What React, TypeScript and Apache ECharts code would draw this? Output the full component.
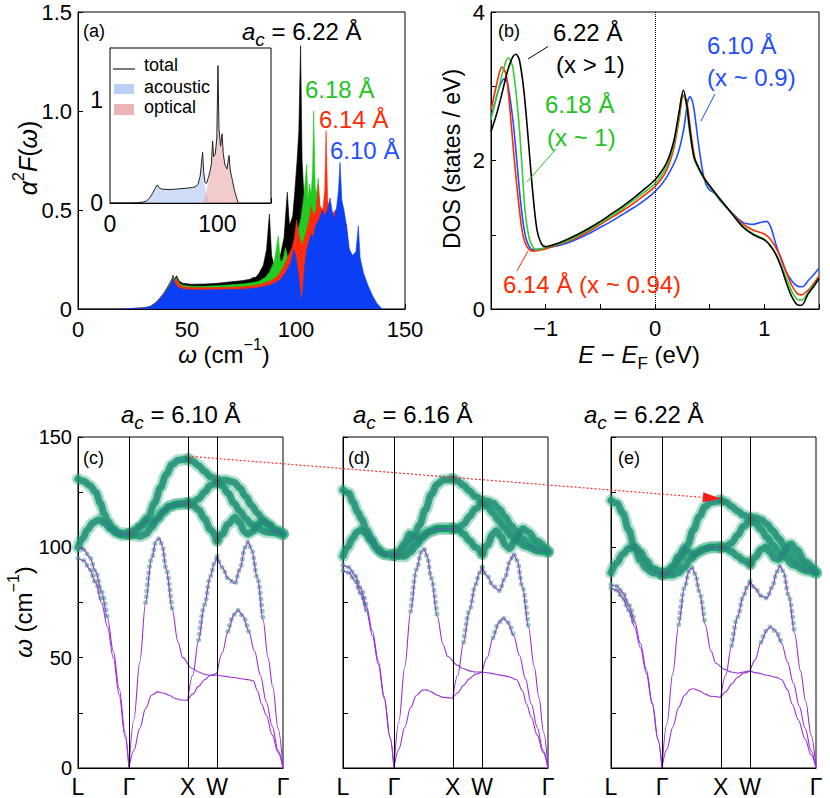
import React, { useEffect, useRef } from 'react';
import * as echarts from 'echarts';

const FONT = "'Liberation Sans', Arial, Helvetica, sans-serif";

// ---------------- Panel (a): alpha^2 F(omega) ----------------
const a2f622 = [[0,0],[18,0],[24,0.002],[30,0.006],[33,0.012],[36,0.035],[39,0.075],[41,0.11],[43,0.15],[43.6,0.17],[44.3,0.15],[45.2,0.168],[46.5,0.14],[48,0.13],[52,0.125],[58,0.126],[64,0.13],[70,0.137],[75,0.143],[79,0.15],[80,0.158],[81.5,0.16],[83,0.18],[85,0.22],[86.5,0.3],[87.8,0.48],[88.8,0.27],[90,0.22],[91.5,0.24],[93,0.28],[94.5,0.36],[96,0.59],[97,0.42],[98.5,0.47],[99.5,0.6],[100.5,0.75],[101.3,0.9],[102.1,1.33],[102.8,0.75],[103.5,0.6],[105,0.55],[106.5,0.45],[108,0.35],[110,0.3],[113,0.25],[120,0.2],[128,0.1],[136,0]];
const a2f618 = [[0,0],[18,0],[24,0.002],[30,0.005],[33,0.011],[36,0.033],[39,0.072],[41,0.105],[43,0.145],[43.6,0.162],[44.3,0.145],[45.2,0.158],[46.5,0.13],[48,0.12],[52,0.115],[58,0.115],[64,0.118],[70,0.122],[76,0.127],[80,0.133],[83,0.14],[86,0.16],[88,0.19],[90,0.24],[91.9,0.37],[92.8,0.24],[94,0.25],[95.2,0.31],[96.2,0.26],[98,0.3],[99.5,0.34],[101,0.4],[102.3,0.46],[103.5,0.56],[104.9,0.73],[105.5,0.55],[106.2,0.63],[107,0.58],[107.6,0.7],[108.1,1.0],[108.8,0.62],[109.5,0.58],[110.2,0.66],[111,0.5],[113,0.44],[116,0.4],[120,0.35],[125,0.22],[130,0.1],[135,0.04],[138,0]];
const a2f614 = [[0,0],[18,0],[24,0.002],[30,0.005],[33,0.011],[36,0.032],[39,0.07],[41,0.1],[43,0.14],[43.6,0.158],[44.3,0.14],[45.2,0.15],[46.5,0.122],[48,0.112],[52,0.108],[58,0.107],[64,0.108],[70,0.11],[76,0.113],[80,0.117],[84,0.125],[88,0.14],[91,0.16],[93,0.19],[95,0.23],[96.5,0.27],[98,0.3],[99.3,0.36],[100.3,0.45],[101.3,0.38],[102.6,0.32],[103.6,0.35],[105,0.4],[106,0.45],[107,0.52],[108,0.47],[109.3,0.5],[110.2,0.63],[111,0.52],[112.3,0.5],[113.2,0.6],[113.8,0.9],[114.5,0.55],[116,0.47],[118,0.5],[120,0.47],[122,0.4],[123.2,0.43],[124,0.32],[126,0.22],[130,0.11],[135,0.04],[139,0]];
const a2f610 = [[0,0],[18,0],[24,0.002],[30,0.005],[33,0.011],[36,0.032],[39,0.07],[41,0.1],[42.5,0.125],[43.6,0.155],[44.5,0.125],[46,0.108],[48,0.1],[52,0.097],[58,0.096],[64,0.097],[70,0.098],[76,0.1],[80,0.103],[84,0.11],[88,0.12],[91,0.135],[93,0.15],[95,0.18],[96.5,0.21],[97.8,0.24],[99,0.3],[100,0.26],[101.2,0.17],[102,0.08],[102.6,0.04],[103.2,0.1],[104,0.22],[105,0.3],[106,0.34],[107,0.38],[108,0.36],[109,0.42],[110.5,0.45],[112,0.5],[113,0.47],[114.5,0.5],[115.6,0.56],[116.5,0.5],[117.5,0.45],[118.7,0.52],[119.5,0.6],[120.2,0.74],[121,0.55],[122,0.5],[123,0.43],[124.5,0.3],[126,0.27],[127.5,0.29],[128.6,0.42],[129.4,0.26],[131,0.18],[133,0.12],[135,0.07],[137,0.03],[139.5,0]];

// inset (6.22 A): total / acoustic / optical
const insetTotal = [[0,0],[18,0],[25,0.003],[30,0.008],[34,0.02],[37,0.05],[40,0.1],[42,0.14],[44,0.175],[45.5,0.15],[48,0.135],[55,0.13],[62,0.135],[70,0.142],[77,0.15],[80,0.16],[82,0.18],[84,0.26],[86.3,0.49],[87.3,0.3],[88.5,0.2],[90,0.19],[91.5,0.24],[93,0.3],[94.5,0.38],[95.6,0.6],[96.5,0.45],[98,0.47],[99.5,0.62],[100.6,1.33],[101.5,0.72],[103,0.55],[104.4,0.67],[105.5,0.48],[107,0.37],[109,0.33],[110.9,0.46],[112,0.32],[114,0.22],[116,0.12],[118,0.05],[119.5,0]];
const insetAcoustic = [[0,0],[18,0],[25,0.003],[30,0.008],[34,0.02],[37,0.05],[40,0.1],[42,0.14],[44,0.175],[45.5,0.15],[48,0.135],[55,0.13],[62,0.135],[70,0.142],[77,0.15],[80,0.16],[82,0.18],[84,0.25],[86.3,0.47],[87.3,0.28],[88.5,0.16],[90,0.08],[91.5,0.03],[93,0]];
const insetOptical = [[85,0],[87,0.02],[88.5,0.06],[90,0.12],[91.5,0.2],[93,0.28],[94.5,0.37],[95.6,0.59],[96.5,0.45],[98,0.47],[99.5,0.62],[100.6,1.32],[101.5,0.72],[103,0.55],[104.4,0.67],[105.5,0.48],[107,0.37],[109,0.33],[110.9,0.46],[112,0.32],[114,0.22],[116,0.12],[118,0.05],[119.5,0]];

// ---------------- Panel (b): DOS ----------------
const dos622 = [[-1.5,2.39],[-1.45,2.62],[-1.4,2.9],[-1.35,3.2],[-1.3,3.4],[-1.27,3.43],[-1.24,3.35],[-1.2,2.95],[-1.16,2.3],[-1.12,1.6],[-1.08,1.07],[-1.04,0.88],[-1.0,0.84],[-0.9,0.88],[-0.8,0.94],[-0.7,1.01],[-0.6,1.09],[-0.5,1.18],[-0.4,1.28],[-0.3,1.38],[-0.2,1.49],[-0.1,1.61],[0,1.74],[0.1,1.95],[0.17,2.25],[0.22,2.65],[0.26,2.95],[0.29,2.75],[0.32,2.4],[0.356,2.05],[0.4,1.9],[0.45,1.76],[0.5,1.66],[0.6,1.47],[0.7,1.29],[0.8,1.11],[0.9,1.0],[1.0,0.93],[1.05,0.86],[1.1,0.75],[1.15,0.58],[1.2,0.36],[1.25,0.17],[1.3,0.06],[1.34,0.05],[1.4,0.2],[1.45,0.3],[1.5,0.41]];
const dos618 = [[-1.5,2.55],[-1.45,2.85],[-1.4,3.15],[-1.36,3.35],[-1.34,3.38],[-1.3,3.25],[-1.25,2.6],[-1.22,2.0],[-1.19,1.35],[-1.15,0.95],[-1.11,0.82],[-1.08,0.8],[-1.0,0.83],[-0.9,0.87],[-0.8,0.92],[-0.7,0.99],[-0.6,1.07],[-0.5,1.16],[-0.4,1.25],[-0.3,1.35],[-0.2,1.46],[-0.1,1.57],[0,1.69],[0.1,1.9],[0.17,2.2],[0.22,2.6],[0.25,2.89],[0.28,2.8],[0.32,2.35],[0.36,2.02],[0.4,1.88],[0.45,1.75],[0.5,1.65],[0.6,1.46],[0.7,1.29],[0.8,1.12],[0.9,1.01],[1.0,0.94],[1.05,0.87],[1.1,0.76],[1.15,0.6],[1.2,0.42],[1.25,0.24],[1.3,0.13],[1.34,0.12],[1.4,0.22],[1.45,0.32],[1.5,0.41]];
const dos614 = [[-1.5,2.68],[-1.46,2.95],[-1.42,3.2],[-1.4,3.26],[-1.36,3.15],[-1.31,2.4],[-1.28,1.9],[-1.25,1.47],[-1.22,1.1],[-1.19,0.9],[-1.15,0.8],[-1.11,0.78],[-1.0,0.81],[-0.9,0.86],[-0.8,0.91],[-0.7,0.97],[-0.6,1.05],[-0.5,1.14],[-0.4,1.23],[-0.3,1.32],[-0.2,1.42],[-0.1,1.53],[0,1.65],[0.1,1.85],[0.17,2.15],[0.22,2.55],[0.26,2.88],[0.29,2.8],[0.33,2.35],[0.37,2.0],[0.42,1.84],[0.5,1.66],[0.6,1.47],[0.7,1.3],[0.8,1.15],[0.9,1.06],[1.0,1.01],[1.05,0.95],[1.1,0.84],[1.15,0.7],[1.2,0.5],[1.25,0.32],[1.3,0.21],[1.34,0.19],[1.4,0.25],[1.45,0.34],[1.5,0.44]];
const dos610 = [[-1.5,2.59],[-1.46,2.8],[-1.42,3.0],[-1.38,3.1],[-1.35,3.05],[-1.3,2.55],[-1.27,2.1],[-1.24,1.6],[-1.21,1.2],[-1.18,0.95],[-1.15,0.84],[-1.12,0.8],[-1.0,0.82],[-0.9,0.85],[-0.8,0.89],[-0.7,0.95],[-0.6,1.02],[-0.5,1.1],[-0.4,1.18],[-0.3,1.27],[-0.2,1.36],[-0.1,1.46],[0,1.58],[0.1,1.76],[0.2,2.05],[0.26,2.4],[0.3,2.8],[0.32,2.86],[0.35,2.75],[0.4,2.2],[0.45,1.75],[0.49,1.62],[0.55,1.55],[0.6,1.45],[0.7,1.3],[0.8,1.17],[0.9,1.14],[0.95,1.16],[1.02,1.18],[1.06,1.1],[1.1,0.9],[1.15,0.68],[1.2,0.5],[1.25,0.38],[1.3,0.31],[1.35,0.3],[1.4,0.38],[1.45,0.46],[1.5,0.55]];

// ---------------- Panels (c)-(e): phonon dispersions ----------------
const G = 0.866, X = 1.866, W = 2.366, G2 = 3.484;
const kPoints = [0, G, X, W, G2];
const kLabels = ['L', 'Γ', 'X', 'W', 'Γ'];

// a_c = 6.10
const c_A1 = [[0,100],[0.1,99],[0.2,95.5],[0.3,89],[0.4,80],[0.5,68],[0.6,53],[0.7,36],[0.8,16],[G,0]];
const c_A2 = [[0,95],[0.1,94],[0.2,90],[0.3,84],[0.4,75],[0.5,64],[0.6,50],[0.7,33],[0.8,14],[G,0]];
const c_A3 = [[G,0],[0.95,22],[1.05,48],[1.15,75],[1.25,95],[1.33,103],[1.384,104],[1.43,101],[1.5,90],[1.6,72],[1.7,57],[1.78,50],[X,47],[1.95,45],[2.05,43.5],[2.15,42.5],[2.25,42],[W,42],[2.5,41.5],[2.65,41],[2.8,40.3],[2.9,40],[2.98,39.5],[3.05,35],[3.12,29],[3.2,24],[3.3,15],[3.4,7],[G2,0]];
const c_A4 = [[G,0],[0.95,8],[1.05,18],[1.15,27],[1.25,33],[1.35,34.5],[1.45,34],[1.55,33],[1.65,31.5],[1.75,30.8],[X,30.7],[1.95,33.5],[2.05,37],[2.15,40],[2.25,42],[W,43],[2.45,52],[2.55,62],[2.65,69.5],[2.72,71.5],[2.8,69],[2.9,62],[3.0,53],[3.1,42],[3.2,30],[3.3,19],[3.4,8],[G2,0]];
const c_A5 = [[X,30.7],[1.95,42],[2.05,58],[2.15,74],[2.25,87],[2.32,93],[W,96],[2.45,91],[2.55,86],[2.665,83.5],[2.75,90],[2.84,100],[2.89,102.5],[2.95,99],[3.05,86],[3.145,67],[3.23,50],[3.31,36.7],[3.4,18],[G2,0]];
const c_O1 = [[0,131],[0.1,130],[0.2,128],[0.3,125],[0.38,120],[0.45,115],[0.5,112],[0.6,108.5],[0.7,106.5],[G,106],[1.0,108],[1.1,110],[1.2,114],[1.3,120],[1.4,127],[1.5,133],[1.6,137.5],[1.7,139.5],[X,140],[1.95,139],[2.05,137],[2.15,134.5],[2.25,132],[W,130],[2.5,130.5],[2.65,129.5],[2.75,127],[2.85,123],[2.95,119],[3.05,115.5],[3.15,112],[3.25,109.5],[3.35,107.5],[G2,106]];
const c_O2 = [[0,100],[0.08,104],[0.16,108],[0.25,111],[0.35,112.5],[0.45,111],[0.55,108.5],[0.65,106.5],[0.75,105.5],[G,106],[0.95,107],[1.05,109.5],[1.15,112],[1.25,111.5],[1.35,113],[1.45,116],[1.55,118.5],[1.65,119.5],[1.75,119.8],[X,120],[1.95,120.5],[2.05,122],[2.15,125],[2.25,128],[W,130],[2.45,128],[2.55,124.5],[2.65,120],[2.75,116.5],[2.85,113],[2.95,110.5],[3.05,108.5],[3.2,107],[G2,106]];
const c_O3 = [[G,106],[0.95,105.5],[1.05,105],[1.15,106],[1.25,109],[1.35,113],[1.45,116.5],[1.55,118.5],[1.7,119.5],[X,120],[1.95,119],[2.05,117],[2.15,113],[2.25,108],[W,103],[2.45,106],[2.55,110.5],[2.665,113.5],[2.75,111],[2.83,107],[2.89,106],[2.95,107],[3.05,110],[3.145,112],[3.25,110.5],[3.35,108],[G2,106]];
const c_dots = [[0,0,0.5],[1,0,0.45],[2,1.15,1.6],[4,2.05,3.145],[3,2.55,2.9]];

// a_c = 6.16
const d_A1 = [[0,92],[0.1,91],[0.2,87.5],[0.3,81.5],[0.4,73],[0.5,62],[0.6,48.5],[0.7,32.5],[0.8,14],[G,0]];
const d_A2 = [[0,89.5],[0.1,88.5],[0.2,85],[0.3,79],[0.4,71],[0.5,60],[0.6,47],[0.7,31.5],[0.8,13.5],[G,0]];
const d_A3 = [[G,0],[0.95,21],[1.05,46],[1.15,71],[1.25,90],[1.33,98],[1.377,99.3],[1.43,96],[1.5,86],[1.6,69],[1.7,56],[1.78,50.5],[X,48.4],[1.95,46.5],[2.05,45],[2.15,44],[2.25,43.5],[W,43.5],[2.5,43],[2.65,42.2],[2.8,41.5],[2.95,40],[3.05,35],[3.12,29],[3.2,23],[3.3,15],[3.4,7],[G2,0]];
const d_A4 = [[G,0],[0.95,8.5],[1.05,18.5],[1.15,27.5],[1.25,33],[1.35,35.3],[1.42,35.4],[1.5,34.5],[1.6,33],[1.7,32],[X,31.6],[1.95,34],[2.05,37.5],[2.15,40.5],[2.25,42.5],[W,43.5],[2.45,50],[2.55,59],[2.65,66],[2.72,68],[2.8,66],[2.9,60],[3.0,51],[3.1,40.5],[3.2,29],[3.3,18.5],[3.4,8],[G2,0]];
const d_A5 = [[X,31.6],[1.95,42],[2.05,57],[2.15,71.5],[2.25,83],[2.32,88.5],[W,91],[2.45,87],[2.55,82.5],[2.66,80.3],[2.75,86],[2.84,94],[2.9,97],[2.96,94],[3.05,82],[3.15,64],[3.25,46],[3.33,32],[3.41,16],[G2,0]];
const d_O1 = [[0,126],[0.1,124.5],[0.17,120.6],[0.25,116],[0.31,113],[0.4,108],[0.48,104],[0.55,100.5],[0.62,98],[0.72,96.8],[G,96.5],[1.0,98],[1.1,100],[1.2,104],[1.3,110],[1.4,117],[1.5,124],[1.6,128.5],[1.7,130.5],[X,131],[1.95,130],[2.05,128],[2.15,125.5],[2.25,123],[W,120.5],[2.45,121],[2.55,120],[2.65,117.5],[2.75,114],[2.85,110],[2.95,107],[3.05,104],[3.2,101],[3.35,99],[G2,98]];
const d_O2 = [[0,96],[0.08,100],[0.16,104],[0.24,107],[0.3,107.7],[0.38,106.5],[0.48,103],[0.58,99.5],[0.7,97],[G,96.5],[0.95,98],[1.05,102],[1.13,106],[1.2,105],[1.3,104],[1.4,106],[1.5,107.5],[1.65,108.5],[X,108.5],[1.95,109],[2.05,110.5],[2.15,114],[2.25,117.5],[W,120.5],[2.45,118.5],[2.55,115.5],[2.65,112],[2.75,108.5],[2.85,105.5],[2.95,103],[3.1,100.5],[3.3,98.5],[G2,98]];
const d_O3 = [[G,96.5],[0.95,96],[1.05,96],[1.15,98],[1.25,101],[1.35,104.5],[1.45,107],[1.6,108.5],[X,108.5],[1.95,108],[2.05,106],[2.15,103],[2.25,100],[W,97],[2.45,101],[2.55,106],[2.6,107.5],[2.68,105],[2.76,101],[2.83,99.5],[2.92,103],[3.0,107],[3.06,108.5],[3.15,107],[3.28,103],[G2,98]];
const d_dots = [[0,0,0.45],[1,0,0.4],[2,1.15,1.6],[4,2.05,3.15],[3,2.55,2.9]];

// a_c = 6.22
const e_A1 = [[0,83.2],[0.1,82.5],[0.2,79.5],[0.3,74],[0.4,66.5],[0.5,56.5],[0.6,44.5],[0.7,30],[0.8,13],[G,0]];
const e_A2 = [[0,81.6],[0.1,80.5],[0.2,77],[0.3,71.5],[0.4,64],[0.5,54.5],[0.6,43],[0.7,29],[0.8,12.5],[G,0]];
const e_A3 = [[G,0],[0.95,20],[1.05,43],[1.15,65],[1.25,82],[1.33,89.5],[1.377,90.8],[1.43,88],[1.5,80],[1.6,65],[1.7,53],[1.78,47.5],[X,45.8],[1.95,44.5],[2.05,43.5],[2.15,43],[2.25,43.5],[W,44],[2.5,43],[2.65,42],[2.8,41.2],[2.9,40],[3.0,35.5],[3.08,29],[3.18,22],[3.3,13],[3.4,6],[G2,0]];
const e_A4 = [[G,0],[0.95,8.5],[1.05,18.5],[1.15,27.5],[1.25,33],[1.35,35.7],[1.405,35.9],[1.5,35],[1.6,33.5],[1.7,32.5],[X,32],[1.95,34.5],[2.05,38],[2.15,41],[2.25,43],[W,44],[2.45,49],[2.55,57],[2.65,62.5],[2.71,64],[2.8,62],[2.9,56.5],[3.0,48],[3.1,38.5],[3.2,28],[3.3,18],[3.4,8],[G2,0]];
const e_A5 = [[X,32],[1.95,42],[2.05,55.5],[2.15,68.5],[2.25,78],[2.32,82.5],[W,84.7],[2.45,81.5],[2.55,78],[2.65,77],[2.74,82],[2.82,89],[2.87,91.6],[2.93,89],[3.02,78],[3.12,61],[3.22,44],[3.31,30],[3.4,15],[G2,0]];
const e_O1 = [[0,121.3],[0.1,120],[0.2,115.5],[0.3,108],[0.4,100],[0.5,94],[0.6,90.5],[0.7,88.5],[G,87.7],[1.0,89],[1.1,91],[1.2,95],[1.3,101],[1.4,108],[1.5,114],[1.6,118.5],[1.7,120.5],[X,121.3],[1.95,120.5],[2.05,118.5],[2.15,116.5],[2.25,114.5],[W,113],[2.45,113.5],[2.55,112.5],[2.65,110.5],[2.75,107.5],[2.85,104],[2.95,100.5],[3.05,97],[3.2,93],[3.35,90],[G2,88.5]];
const e_O2 = [[0,88.5],[0.1,93],[0.2,97],[0.3,99.5],[0.4,100],[0.5,98],[0.6,94],[0.7,90.5],[G,88],[0.95,89],[1.05,91.5],[1.15,96],[1.25,99.5],[1.32,98],[1.4,96.5],[1.5,98],[1.6,99.5],[1.7,100],[X,100],[1.95,100.5],[2.05,102],[2.15,105.5],[2.25,109.5],[W,113],[2.45,111],[2.55,108],[2.65,104.5],[2.75,101],[2.85,98],[2.95,95.5],[3.1,92],[3.3,89.5],[G2,88.5]];
const e_O3 = [[G,88],[0.95,87.5],[1.05,87.5],[1.15,88.5],[1.25,91],[1.35,94.5],[1.45,97.5],[1.55,99],[1.7,100],[X,100],[1.95,99.5],[2.05,98],[2.15,96],[2.25,94],[W,92.3],[2.45,95.5],[2.55,99],[2.62,100],[2.7,98],[2.78,95],[2.84,94.5],[2.92,97],[3.0,100.5],[3.06,101.5],[3.15,99],[3.3,93.5],[G2,88.5]];
const e_dots = [[0,0,0.4],[1,0,0.4],[2,1.15,1.6],[4,2.05,3.12],[3,2.55,2.9]];

const PURPLE = '#9b30d9';

function splitSym(pts: number[][]) {
  const segs: number[][][] = [];
  let cur: number[][] = [];
  pts.forEach((p) => {
    cur.push(p);
    const isSym = kPoints.some((k) => Math.abs(k - p[0]) < 1e-6);
    if (isSym && cur.length > 1) {
      segs.push(cur);
      cur = [p];
    }
  });
  if (cur.length > 1) segs.push(cur);
  return segs;
}

function dispersionSeries(gi: number, acoustic: number[][][], optical: number[][][], dots: number[][]) {
  const out: any[] = [];
  const base = {
    type: 'line', xAxisIndex: gi, yAxisIndex: gi, showSymbol: false, symbol: 'none',
    silent: true, smooth: 0.35, smoothMonotone: 'x',
  };
  optical.forEach((curve) => splitSym(curve).forEach((seg) => {
    out.push({ ...base, data: seg, z: 2, lineStyle: { width: 12, color: 'rgba(45,165,125,0.38)', cap: 'round' } });
    out.push({ ...base, data: seg, z: 2, lineStyle: { width: 7, color: 'rgba(20,150,108,0.85)', cap: 'round' } });
  }));
  dots.forEach(([ci, k0, k1]) => {
    const pts = acoustic[ci].filter((p) => p[0] >= k0 - 1e-6 && p[0] <= k1 + 1e-6);
    splitSym(pts).forEach((seg) => out.push({ ...base, data: seg, z: 2, lineStyle: { width: 5, color: 'rgba(70,170,135,0.6)', type: [0, 6], cap: 'round' } }));
  });
  acoustic.forEach((curve) => splitSym(curve).forEach((seg) => out.push({ ...base, data: seg, z: 3, lineStyle: { width: 1.1, color: PURPLE } })));
  optical.forEach((curve) => splitSym(curve).forEach((seg) => out.push({ ...base, data: seg, z: 3, lineStyle: { width: 1, color: PURPLE, opacity: 0.4 } })));
  out.push({
    ...base, data: [], z: 1,
    markLine: {
      silent: true, symbol: 'none', label: { show: false }, animation: false,
      lineStyle: { color: '#000', type: 'solid', width: 1 },
      data: [{ xAxis: G }, { xAxis: X }, { xAxis: W }],
    },
  });
  return out;
}

function rich(size: number) {
  const lh = Math.round(size * 1.45);
  return {
    n: { fontSize: size, fontFamily: FONT, lineHeight: lh },
    i: { fontSize: size, fontFamily: FONT, fontStyle: 'italic', lineHeight: lh },
    sub: { fontSize: Math.round(size * 0.8), fontFamily: FONT, fontStyle: 'italic', lineHeight: Math.round(size * 0.8), verticalAlign: 'bottom' },
    subn: { fontSize: Math.round(size * 0.72), fontFamily: FONT, lineHeight: Math.round(size * 0.72), verticalAlign: 'bottom' },
    sup: { fontSize: Math.round(size * 0.65), fontFamily: FONT, lineHeight: Math.round(size * 0.85), verticalAlign: 'top' },
  };
}

function T(x: number, y: number, text: string, size: number, color = '#000', align = 'left', rot = 0) {
  return {
    type: 'text', x, y, rotation: rot, z: 100, silent: true,
    style: {
      text, fill: color, fontSize: size, fontFamily: FONT,
      align, verticalAlign: 'middle', textAlign: align, textVerticalAlign: 'middle',
      rich: rich(size),
    },
  };
}
function L(x1: number, y1: number, x2: number, y2: number, color = '#000', w = 1) {
  return { type: 'line', z: 100, silent: true, shape: { x1, y1, x2, y2 }, style: { stroke: color, lineWidth: w } };
}

const GREEN_T = '#22c422';
const RED_T = '#ff2a00';
const BLUE_T = '#1f4fff';

export default function App() {
  const ref = useRef<HTMLDivElement>(null);
  useEffect(() => {
    if (!ref.current) return;
    const chart = echarts.init(ref.current, undefined, { renderer: 'svg' });

    const gridDefs = [
      { left: 78, top: 12, width: 327, height: 297 },
      { left: 110, top: 48, width: 161, height: 155 },
      { left: 491, top: 12, width: 328, height: 297 },
      { left: 78, top: 437, width: 205, height: 331 },
      { left: 343, top: 437, width: 205, height: 331 },
      { left: 611, top: 437, width: 205, height: 331 },
    ];
    const grid = gridDefs.map((g, i) => ({
      ...g, show: true, borderColor: '#000', borderWidth: 1,
      backgroundColor: i === 1 ? '#fff' : 'transparent', z: i === 1 ? 1 : 0,
    }));

    const ax = (gi: number, extra: any) => ({
      gridIndex: gi, type: 'value',
      axisLine: { show: true, onZero: false, lineStyle: { color: '#000', width: 1 } },
      splitLine: { show: false },
      axisTick: { show: true, inside: true, length: 5, lineStyle: { color: '#000' } },
      ...extra,
      axisLabel: { color: '#000', fontFamily: FONT, ...(extra.axisLabel || {}) },
    });

    const minus = (v: number) => (v < 0 ? '\u2212' + Math.abs(v) : String(v));

    const xAxis: any[] = [
      ax(0, { min: 0, max: 150, interval: 50, axisLabel: { fontSize: 22, margin: 9 } }),
      ax(1, { min: 0, max: 150, interval: 50, axisLabel: { fontSize: 23, margin: 9, formatter: (v: number) => (v === 0 || v === 100 ? String(v) : '') } }),
      ax(2, { min: -1.5, max: 1.5, interval: 0.5, axisLabel: { fontSize: 22, margin: 8, formatter: (v: number) => (Number.isInteger(v) ? minus(v) : '') } }),
    ];
    const yAxis: any[] = [
      ax(0, { min: 0, max: 1.5, interval: 0.5, axisLabel: { fontSize: 22, margin: 6, formatter: (v: number) => (v === 0 ? '0' : v.toFixed(1)) } }),
      ax(1, { min: 0, max: 1.5, interval: 0.5, axisLabel: { fontSize: 23, margin: 7, formatter: (v: number) => (Number.isInteger(v) ? String(v) : '') } }),
      ax(2, { min: 0, max: 4, interval: 1, axisLabel: { fontSize: 22, margin: 6, formatter: (v: number) => (v % 2 === 0 ? String(v) : '') } }),
    ];
    [3, 4, 5].forEach((gi) => {
      xAxis.push(ax(gi, {
        min: 0, max: G2,
        axisTick: { show: false },
        axisLabel: {
          fontSize: 23, margin: 7, customValues: kPoints, showMinLabel: true, showMaxLabel: true,
          formatter: (v: number) => {
            const i = kPoints.findIndex((k) => Math.abs(k - v) < 1e-3);
            return i >= 0 ? kLabels[i] : '';
          },
        },
      }));
      yAxis.push(ax(gi, {
        min: 0, max: 150, interval: 25,
        axisLabel: { show: gi === 3, fontSize: 20, margin: 6, formatter: (v: number) => (v % 50 === 0 ? String(v) : '') },
      }));
    });

    const series: any[] = [];
    // panel (a)
    ([[a2f622, '#000000'], [a2f618, '#20cc20'], [a2f614, '#ff2b0a'], [a2f610, '#0b3ff5']] as any[]).forEach(([d, c], i) => {
      series.push({
        type: 'line', xAxisIndex: 0, yAxisIndex: 0, data: d, showSymbol: false, symbol: 'none', silent: true,
        lineStyle: { width: 0.6, color: c }, areaStyle: { color: c, opacity: 1 }, z: 2 + i * 0.01,
      });
    });
    // inset
    series.push({ type: 'line', xAxisIndex: 1, yAxisIndex: 1, data: insetAcoustic, showSymbol: false, symbol: 'none', silent: true, lineStyle: { width: 0 }, areaStyle: { color: 'rgba(160,188,240,0.72)' }, z: 3 });
    series.push({ type: 'line', xAxisIndex: 1, yAxisIndex: 1, data: insetOptical, showSymbol: false, symbol: 'none', silent: true, lineStyle: { width: 0 }, areaStyle: { color: 'rgba(228,150,150,0.7)' }, z: 3 });
    series.push({ type: 'line', xAxisIndex: 1, yAxisIndex: 1, data: insetTotal, showSymbol: false, symbol: 'none', silent: true, lineStyle: { width: 1, color: '#222' }, z: 4 });
    // panel (b)
    ([[dos610, '#1f4fff'], [dos614, '#ff2a00'], [dos618, '#33cc33'], [dos622, '#000000']] as any[]).forEach(([d, c], i) => {
      series.push({
        type: 'line', xAxisIndex: 2, yAxisIndex: 2, data: d, showSymbol: false, symbol: 'none', silent: true,
        smooth: 0.3, lineStyle: { width: 1.6, color: c }, z: 3,
        markLine: i === 0 ? {
          silent: true, symbol: 'none', label: { show: false },
          lineStyle: { color: '#000', type: 'dotted', width: 1 }, data: [{ xAxis: 0 }],
        } : undefined,
      });
    });
    // panels (c)-(e)
    series.push(...dispersionSeries(3, [c_A1, c_A2, c_A3, c_A4, c_A5], [c_O1, c_O2, c_O3], c_dots));
    series.push(...dispersionSeries(4, [d_A1, d_A2, d_A3, d_A4, d_A5], [d_O1, d_O2, d_O3], d_dots));
    series.push(...dispersionSeries(5, [e_A1, e_A2, e_A3, e_A4, e_A5], [e_O1, e_O2, e_O3], e_dots));

    chart.setOption({
      animation: false,
      backgroundColor: '#fff',
      textStyle: { fontFamily: FONT },
      grid, xAxis, yAxis, series,
    });

    // red dotted arrow from (c) X-top to (e) X-top
    const p1 = chart.convertToPixel({ xAxisIndex: 3, yAxisIndex: 3 } as any, [X, 141.3]) as number[];
    const p2 = chart.convertToPixel({ xAxisIndex: 5, yAxisIndex: 5 } as any, [X, 122]) as number[];
    const dx = p2[0] - p1[0], dy = p2[1] - p1[1];
    const len = Math.hypot(dx, dy);
    const ux = dx / len, uy = dy / len;
    const hl = 18, hw = 5;
    const bx = p2[0] - ux * hl, by = p2[1] - uy * hl;
    const arrow = [
      { type: 'line', z: 100, silent: true, shape: { x1: p1[0], y1: p1[1], x2: bx, y2: by }, style: { stroke: '#ff2a2a', lineWidth: 1.2, lineDash: [2, 2] } },
      { type: 'polygon', z: 100, silent: true, shape: { points: [[p2[0], p2[1]], [bx - uy * hw, by + ux * hw], [bx + uy * hw, by - ux * hw]] }, style: { fill: '#ff1a1a' } },
    ];

    const texts = [
      T(83, 31, '(a)', 18),
      T(242, 31, '{i|a}{sub|c}{n| = 6.22 Å}', 24),
      T(305, 89, '6.18 Å', 24, GREEN_T),
      T(319, 119, '6.14 Å', 24, RED_T),
      T(330, 150, '6.10 Å', 24, BLUE_T),
      L(113, 69, 135, 69, '#222', 1.2),
      { type: 'rect', z: 100, silent: true, shape: { x: 114, y: 84, width: 20, height: 10 }, style: { fill: 'rgba(160,188,240,0.72)' } },
      { type: 'rect', z: 100, silent: true, shape: { x: 114, y: 104, width: 20, height: 11 }, style: { fill: 'rgba(228,150,150,0.7)' } },
      T(144, 65, 'total', 18),
      T(144, 87, 'acoustic', 18),
      T(144, 107, 'optical', 18),
      T(224, 354, '{i|ω}{n| (cm}{sup|\u22121}{n|)}', 24, '#000', 'center'),
      T(28, 158, '{i|α}{sup|2}{i|F}{n|(}{i|ω}{n|)}', 25, '#000', 'center', Math.PI / 2),
      // panel (b)
      T(498, 31, '(b)', 18),
      T(553, 32, '6.22 Å', 24),
      T(556, 64, '(x > 1)', 24),
      T(545, 104, '6.18 Å', 24, GREEN_T),
      T(547, 137, '(x ~ 1)', 24, GREEN_T),
      T(707, 45, '6.10 Å', 24, BLUE_T),
      T(707, 77, '(x ~ 0.9)', 24, BLUE_T),
      T(503, 284, '6.14 Å (x ~ 0.94)', 24, RED_T),
      L(528, 59, 548, 46.5, '#000'),
      L(527, 182, 556, 149, GREEN_T),
      L(701, 121, 715, 94, BLUE_T),
      L(517, 271, 528, 251, RED_T),
      T(639, 354, '{i|E}{n| \u2212 }{i|E}{subn|F}{n| (eV)}', 24, '#000', 'center'),
      T(452, 159, 'DOS (states / eV)', 23, '#000', 'center', Math.PI / 2),
      // panels (c)-(e)
      T(121, 414, '{i|a}{sub|c}{n| = 6.10 Å}', 24),
      T(353, 414, '{i|a}{sub|c}{n| = 6.16 Å}', 24),
      T(584, 414, '{i|a}{sub|c}{n| = 6.22 Å}', 24),
      T(83, 458, '(c)', 18),
      T(348, 458, '(d)', 18),
      T(618, 458, '(e)', 18),
      T(23, 612, '{i|ω}{n| (cm}{sup|\u22121}{n|)}', 24, '#000', 'center', Math.PI / 2),
    ];

    chart.setOption({ graphic: { elements: [...texts, ...arrow] } });

    return () => chart.dispose();
  }, []);
  return <div ref={ref} style={{ position: 'fixed', left: 0, top: 0, width: 830, height: 798 }} />;
}
